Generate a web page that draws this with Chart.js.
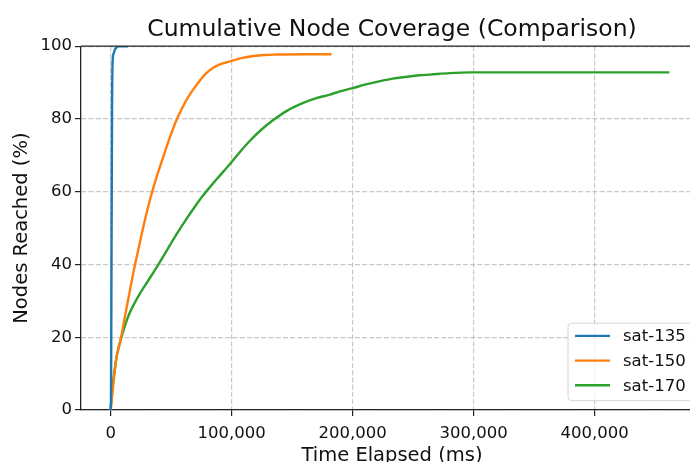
<!DOCTYPE html>
<html><head><meta charset="utf-8">
<script src="https://cdn.jsdelivr.net/npm/chart.js@4"></script>
<style>
html,body{margin:0;padding:0;overflow:hidden;background:#fff}
#wrap{width:690px;height:462px;overflow:hidden;position:relative}
canvas{display:block}
</style></head>
<body>
<div id="wrap"><canvas id="c" width="720" height="470"></canvas></div>
<script>
// ---- data ----
const seriesLabels = ['sat-135', 'sat-150', 'sat-170'];
const seriesColors = ['#1f77b4', '#ff7f0e', '#2ca02c'];

const sat135Time = [0, 300, 600, 900, 1200, 1650, 2500, 3550, 5000, 6300, 14300];
const sat135Pct  = [0, 5, 30, 60, 85, 95.9, 98, 99.1, 99.7, 100, 100];

const sat150Time = [0, 2500, 4960, 7700, 11800, 16000, 20100, 23600, 26900, 31000, 35200, 39500, 43500, 49000, 54500, 58500, 62800, 68000, 73800, 79000, 84800, 92000, 99400, 108000, 117900, 127000, 137200, 160000, 182600];
const sat150Pct  = [0, 8, 14.7, 18.4, 25.7, 33, 39.9, 45.2, 50.2, 55.9, 61, 65.6, 69.6, 75, 79.8, 82.6, 85.3, 88, 90.6, 92.6, 94.1, 95.2, 95.9, 96.7, 97.3, 97.6, 97.7, 97.8, 97.8];

const sat170Time = [0, 1500, 4960, 9100, 14500, 22800, 31100, 39300, 43500, 49000, 55000, 62800, 69000, 76500, 87000, 98600, 106000, 115100, 124000, 134400, 146000, 159200, 170000, 181200, 189500, 200000, 211000, 222600, 233000, 244600, 255000, 263900, 280000, 297500, 350000, 400000, 461700];
const sat170Pct  = [0, 6, 14.7, 20.2, 25.7, 31.2, 35.6, 39.9, 42.2, 45.3, 48.6, 52.6, 55.6, 59, 63.2, 67.6, 70.6, 74, 76.9, 79.7, 82.3, 84.4, 85.7, 86.7, 87.6, 88.5, 89.5, 90.4, 91.1, 91.6, 92, 92.2, 92.6, 92.8, 92.8, 92.8, 92.8];

const xTicks = [0, 100000, 200000, 300000, 400000];
const yTicks = [0, 20, 40, 60, 80, 100];

const titleText = 'Cumulative Node Coverage (Comparison)';
const xTitle = 'Time Elapsed (ms)';
const yTitle = 'Nodes Reached (%)';

// ---- build datasets ----
const seriesTimes = [sat135Time, sat150Time, sat170Time];
const seriesPcts = [sat135Pct, sat150Pct, sat170Pct];
const datasets = seriesLabels.map((lab, i) => ({
  label: lab,
  data: seriesTimes[i].map((t, k) => ({x: t, y: seriesPcts[i][k]})),
  borderColor: seriesColors[i],
  backgroundColor: seriesColors[i],
  borderWidth: 2.4,
  pointRadius: 0,
  fill: false,
  cubicInterpolationMode: 'monotone'
}));

const FONT = "'DejaVu Sans', sans-serif";
Chart.defaults.font.family = FONT;

const frame = {
  id: 'frame',
  afterDatasetsDraw(chart) {
    const {ctx, chartArea: a} = chart;
    ctx.save();
    ctx.strokeStyle = '#222';
    ctx.lineWidth = 1.3;
    ctx.beginPath();
    ctx.moveTo(a.left, a.top);
    ctx.lineTo(a.right, a.top);
    ctx.lineTo(a.right, a.bottom);
    ctx.stroke();
    ctx.restore();
  }
};

const insideLegend = {
  id: 'insideLegend',
  afterDraw(chart) {
    const {ctx, chartArea: a} = chart;
    const fs = 16.5;
    const boxW = 127, boxH = 77.5;
    const right = a.right - 8, bottom = a.bottom - 9.3;
    const left = right - boxW, top = bottom - boxH;
    ctx.save();
    ctx.beginPath();
    ctx.roundRect(left, top, boxW, boxH, 4);
    ctx.fillStyle = 'rgba(255,255,255,0.8)';
    ctx.fill();
    ctx.strokeStyle = '#d6d6d6';
    ctx.lineWidth = 1;
    ctx.stroke();
    ctx.font = fs + 'px ' + FONT;
    ctx.textBaseline = 'middle';
    ctx.textAlign = 'left';
    chart.data.datasets.forEach((ds, i) => {
      const y = top + 12.7 + i * 24.7;
      ctx.strokeStyle = ds.borderColor;
      ctx.lineWidth = 2.4;
      ctx.beginPath();
      ctx.moveTo(left + 7, y);
      ctx.lineTo(left + 42, y);
      ctx.stroke();
      ctx.fillStyle = '#111';
      ctx.fillText(ds.label, left + 55, y + 1);
    });
    ctx.restore();
  }
};

const gridCommon = {
  color: 'rgba(176,176,176,0.7)',
  lineWidth: 1.2,
  drawTicks: true,
  tickLength: 6,
  tickColor: '#222',
  tickWidth: 1.2,
  tickBorderDash: []
};
const borderCommon = {display: true, color: '#222', width: 1.3, dash: [5, 2.2]};

new Chart(document.getElementById('c'), {
  type: 'line',
  data: {datasets},
  plugins: [frame, insideLegend],
  options: {
    responsive: false,
    animation: false,
    devicePixelRatio: 1,
    layout: {padding: {left: 0, right: 17, top: 0, bottom: 0}},
    plugins: {
      legend: {display: false},
      tooltip: {enabled: false},
      title: {
        display: true,
        text: titleText,
        fullSize: false,
        color: '#111',
        font: {family: FONT, size: 23.5, weight: 'normal'},
        padding: {top: 16, bottom: 2}
      }
    },
    scales: {
      x: {
        type: 'linear',
        min: -24500,
        max: 489500,
        afterBuildTicks: s => { s.ticks = xTicks.map(v => ({value: v})); },
        afterFit: s => { s.height = 60; },
        ticks: {
          color: '#111',
          font: {size: 16.5},
          padding: 8,
          maxRotation: 0,
          autoSkip: false,
          callback: v => Number(v).toLocaleString('en-US')
        },
        grid: gridCommon,
        border: borderCommon,
        title: {display: true, text: xTitle, color: '#111', font: {size: 19.5}, padding: {top: 0, bottom: 2}}
      },
      y: {
        type: 'linear',
        min: 0,
        max: 100,
        afterBuildTicks: s => { s.ticks = yTicks.map(v => ({value: v})); },
        afterFit: s => { s.width = 81; },
        ticks: {color: '#111', font: {size: 16.5}, padding: 3, autoSkip: false},
        grid: gridCommon,
        border: borderCommon,
        title: {display: true, text: yTitle, color: '#111', font: {size: 19.5}, padding: {top: 10, bottom: 0}}
      }
    }
  }
});
</script>
</body></html>
